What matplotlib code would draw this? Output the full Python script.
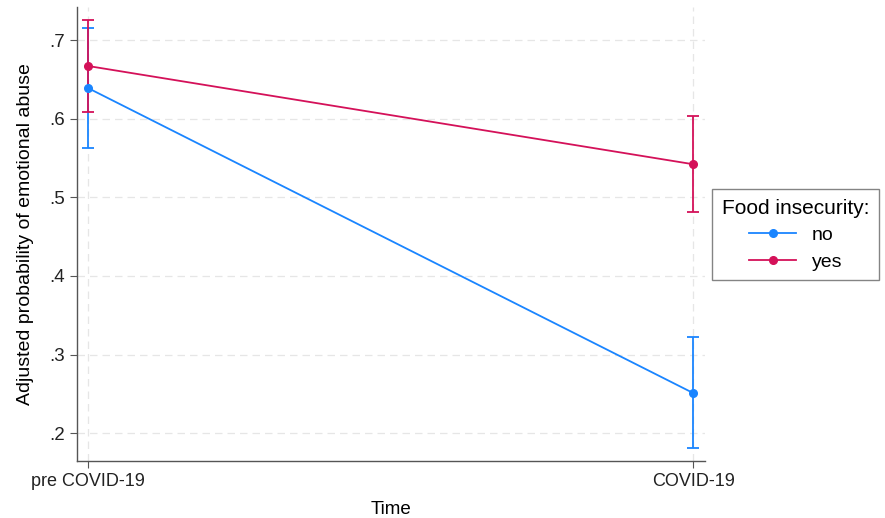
import matplotlib
matplotlib.use("Agg")
import matplotlib.pyplot as plt
from matplotlib.lines import Line2D
import numpy as np

periods = ['pre COVID-19', 'COVID-19']
groups = ['no', 'yes']
colors = ['#1a85ff', '#d41159']
est_no = [0.639, 0.251]
lo_no = [0.563, 0.181]
hi_no = [0.715, 0.322]
est_yes = [0.667, 0.542]
lo_yes = [0.609, 0.481]
hi_yes = [0.726, 0.603]
yticks = [0.2, 0.3, 0.4, 0.5, 0.6, 0.7]
ytick_labels = ['.2', '.3', '.4', '.5', '.6', '.7']

plt.rcParams['font.family'] = ['Liberation Sans', 'DejaVu Sans']

fig = plt.figure(figsize=(8.85, 5.18), dpi=100)
ax = fig.add_axes([0.087, 0.110, 0.710, 0.8765])

x = np.arange(len(periods))
series = [(est_no, lo_no, hi_no), (est_yes, lo_yes, hi_yes)]
handles = []
for (est, lo, hi), name, c in zip(series, groups, colors):
    est = np.array(est)
    err = [est - np.array(lo), np.array(hi) - est]
    ax.errorbar(x, est, yerr=err, color=c, marker='o', markersize=5.5,
                linewidth=1.3, elinewidth=1.3, capsize=4, capthick=1.3)
    handles.append(Line2D([], [], color=c, marker='o', markersize=5.5,
                          linewidth=1.3, label=name))

ax.set_xlim(-0.018, 1.020)
ax.set_ylim(0.1646, 0.742)
ax.set_xticks(x)
ax.set_xticklabels(periods, fontsize=13)
ax.set_yticks(yticks)
ax.set_yticklabels(ytick_labels, fontsize=13.5)
ax.grid(True, linestyle=(0, (6, 4)), color='#e6e6e6', linewidth=0.9)
ax.set_axisbelow(True)
for s in ['top', 'right']:
    ax.spines[s].set_visible(False)
for s in ['left', 'bottom']:
    ax.spines[s].set_color('#555555')
    ax.spines[s].set_linewidth(1.0)
ax.tick_params(colors='#555555', labelcolor='#222222', length=5)

ax.set_xlabel('Time', fontsize=13.5, labelpad=8)
ax.set_ylabel('Adjusted probability of emotional abuse', fontsize=14)
ax.yaxis.set_label_coords(-0.069, 0.5)

leg = ax.legend(handles=handles, title='Food insecurity:', loc='upper left',
                bbox_to_anchor=(1.011, 0.599), borderaxespad=0,
                fontsize=14, title_fontsize=15,
                frameon=True, fancybox=False, edgecolor='#666666',
                handlelength=2.4, borderpad=0.5, labelspacing=0.45)
leg.get_frame().set_linewidth(1.0)

fig.savefig('out.png', dpi=100)
